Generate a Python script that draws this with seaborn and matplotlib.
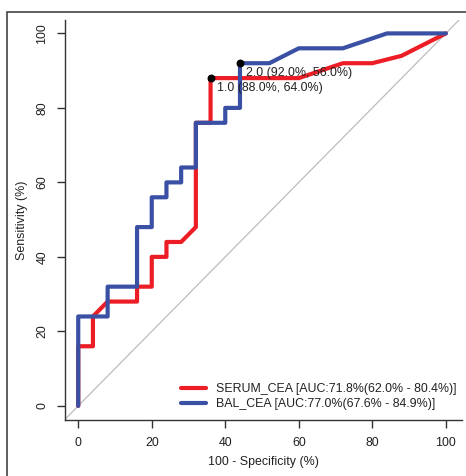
import matplotlib
matplotlib.use("Agg")
import matplotlib.pyplot as plt
from matplotlib.patches import Rectangle
from matplotlib.lines import Line2D
import seaborn as sns
import pandas as pd

# ---- data ----
serum_fpr = [0, 0, 4, 4, 8, 16, 16, 20, 20, 24, 24, 28, 32, 32, 36, 36, 60, 72, 80, 88, 92, 100]
serum_tpr = [0, 16, 16, 24, 28, 28, 32, 32, 40, 40, 44, 44, 48, 76, 76, 88, 88, 92, 92, 94, 96, 100]
bal_fpr = [0, 0, 8, 8, 16, 16, 20, 20, 24, 24, 28, 28, 32, 32, 40, 40, 44, 44, 52, 60, 72, 84, 100]
bal_tpr = [0, 24, 24, 32, 32, 48, 48, 56, 56, 60, 60, 64, 64, 76, 76, 80, 80, 92, 92, 96, 96, 100, 100]
series_names = ["SERUM_CEA", "BAL_CEA"]
legend_labels = ["SERUM_CEA [AUC:71.8%(62.0% - 80.4%)]",
                 "BAL_CEA [AUC:77.0%(67.6% - 84.9%)]"]
thr_x = [36, 44]
thr_y = [88, 92]
thr_labels = ["1.0 (88.0%, 64.0%)", "2.0 (92.0%, 56.0%)"]
ticks = [0, 20, 40, 60, 80, 100]

sns.set_theme(style="white")
plt.rcParams["font.family"] = ["Liberation Sans", "DejaVu Sans"]

FS = 8.9
W, H = 466, 476
fig = plt.figure(figsize=(W / 100, H / 100), dpi=100)
ax = fig.add_axes([65 / W, 1 - 420 / H, (462 - 65) / W, (420 - 20) / H])

df = pd.concat([
    pd.DataFrame({"fpr": serum_fpr, "tpr": serum_tpr, "series": series_names[0], "order": range(len(serum_fpr))}),
    pd.DataFrame({"fpr": bal_fpr, "tpr": bal_tpr, "series": series_names[1], "order": range(len(bal_fpr))}),
], ignore_index=True)

colors = {"SERUM_CEA": "#EC1D25", "BAL_CEA": "#3A50A5"}

# diagonal reference
ax.plot([-10, 110], [-10, 110], color="#BDBDBD", lw=0.9, zorder=1)

sns.lineplot(data=df, x="fpr", y="tpr", hue="series", hue_order=series_names,
             estimator=None, sort=False, palette=colors, linewidth=3.0,
             legend=False, ax=ax, zorder=2)

ax.scatter(thr_x, thr_y, s=22, color="black", zorder=4)
for x, y, t in zip(thr_x, thr_y, thr_labels):
    ax.annotate(t, (x, y), xytext=(4.3, -7.0), textcoords="offset points",
                ha="left", va="center", fontsize=FS, color="#222222", zorder=5)

ax.set_xlim(-3.6, 104.4)
ax.set_ylim(-3.8, 103.6)
ax.set_xticks(ticks)
ax.set_yticks(ticks)
ax.set_xlabel("100 - Specificity (%)", fontsize=FS, color="#222222", labelpad=5)
ax.set_ylabel("Sensitivity (%)", fontsize=FS, color="#222222", labelpad=6)

for s in ["top", "right"]:
    ax.spines[s].set_visible(False)
for s in ["left", "bottom"]:
    ax.spines[s].set_color("#333333")
    ax.spines[s].set_linewidth(1.0)

ax.tick_params(axis="both", which="both", direction="out", length=6, width=1.0,
               color="#333333", labelsize=FS, labelcolor="#222222", pad=6,
               left=True, bottom=True)
ax.tick_params(axis="y", labelrotation=90)
for lbl in ax.get_yticklabels():
    lbl.set_va("center")

handles = [Line2D([0], [0], color=colors[n], lw=3.0) for n in series_names]
leg = ax.legend(handles, legend_labels, loc="lower right", bbox_to_anchor=(0.985, 0.025),
                frameon=False, fontsize=FS, handlelength=2.0, handletextpad=0.8,
                labelspacing=0.25, borderpad=0, borderaxespad=0)
for t in leg.get_texts():
    t.set_color("#222222")

# outer device frame
fig.add_artist(Rectangle((7 / W, -0.2), 2.0, (1 - 12 / H) + 0.2, transform=fig.transFigure,
                         fill=False, ec="#444444", lw=1.2))

fig.savefig("out.png", dpi=100)
